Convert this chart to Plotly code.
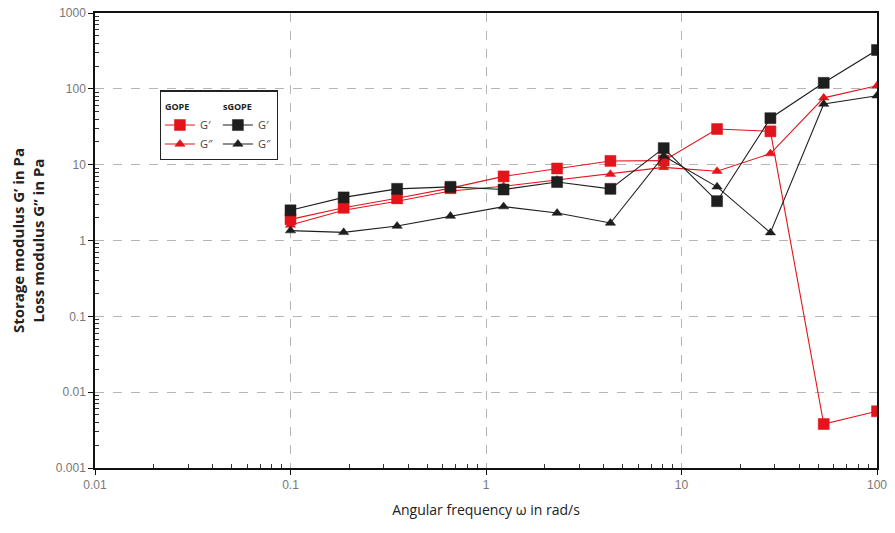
import plotly.graph_objects as go

# Angular frequency sweep (rad/s), log-spaced from 0.1 to 100
omega = [0.1, 0.187, 0.351, 0.658, 1.23, 2.31, 4.33, 8.11, 15.2, 28.5, 53.4, 100]

# GOPE moduli (Pa)
gope_storage = [1.9, 2.7, 3.6, 4.9, 7.0, 8.9, 11.2, 11.3, 29.5, 27.5, 0.0038, 0.0056]
gope_loss = [1.6, 2.5, 3.3, 4.5, 5.2, 6.3, 7.5, 9.2, 8.2, 14.0, 76, 110]

# sGOPE moduli (Pa)
sgope_storage = [2.5, 3.7, 4.8, 5.1, 4.7, 5.9, 4.8, 16.5, 3.3, 41, 120, 325]
sgope_loss = [1.35, 1.28, 1.55, 2.1, 2.8, 2.3, 1.7, 13.0, 5.1, 1.27, 63, 81]

y_ticks = [0.001, 0.01, 0.1, 1, 10, 100, 1000]
y_tick_text = ["0.001", "0.01", "0.1", "1", "10", "100", "1000"]
x_ticks = [0.01, 0.1, 1, 10, 100]
x_tick_text = ["0.01", "0.1", "1", "10", "100"]

RED = "#e3141b"
DARK = "#1e1e1e"


def minor_positions(lo_exp, hi_exp):
    # 2..9 multiples inside every decade of a log axis
    return [m * 10.0 ** e for e in range(lo_exp, hi_exp) for m in range(2, 10)]


fig = go.Figure()


def add_series(y, name, group, group_title, color, symbol, size):
    fig.add_trace(go.Scatter(
        x=omega, y=y, name=name, mode="lines+markers",
        legendgroup=group,
        legendgrouptitle=dict(text=group_title,
                              font=dict(size=9, color="#222", family="Open Sans", weight="bold")),
        line=dict(color=color, width=1.1),
        marker=dict(symbol=symbol, size=size, color=color,
                    line=dict(color=color, width=0.5)),
    ))


add_series(gope_storage, "G′", "gope", "GOPE", RED, "square", 11)
add_series(gope_loss, "G″", "gope", "GOPE", RED, "triangle-up", 9)
add_series(sgope_storage, "G′", "sgope", "sGOPE", DARK, "square", 11)
add_series(sgope_loss, "G″", "sgope", "sGOPE", DARK, "triangle-up", 9)

axis_common = dict(
    type="log",
    showline=True, linecolor="#111", linewidth=1.5, mirror=True,
    ticks="outside", ticklen=5, tickcolor="#111", tickwidth=1.2,
    showgrid=True, gridcolor="#b5b5b5", griddash="dash", gridwidth=1,
    tickfont=dict(family="Liberation Sans Narrow, Liberation Sans", size=12, color="#777"),
    zeroline=False,
)

fig.update_xaxes(
    **axis_common,
    range=[-2, 2],
    tickmode="array", tickvals=x_ticks, ticktext=x_tick_text,
    title=dict(text="Angular frequency ω in rad/s",
               font=dict(family="Open Sans", size=14, color="#222"), standoff=14),
)
fig.update_yaxes(
    **axis_common,
    range=[-3, 3],
    tickmode="array", tickvals=y_ticks, ticktext=y_tick_text,
    title=dict(text="Storage modulus G’ in Pa<br>Loss modulus G’’ in Pa",
               font=dict(family="Open Sans", size=15, color="#222", weight="bold"), standoff=8),
)

# Overlay axes carrying only the inward minor ticks (2..9 in each decade)
minor_axis = dict(
    type="log", ticks="inside", ticklen=4, tickcolor="#333", tickwidth=1,
    showticklabels=False, showgrid=False, zeroline=False, showline=False,
    tickmode="array",
)

fig.update_layout(
    width=895, height=533,
    margin=dict(l=95, r=18, t=6, b=65),
    plot_bgcolor="white", paper_bgcolor="white",
    showlegend=True,
    xaxis2=dict(**minor_axis, overlaying="x", side="bottom", anchor="y",
                range=[-2, 2], tickvals=minor_positions(-2, 2), matches=None),
    yaxis2=dict(**minor_axis, overlaying="y", side="left", anchor="x",
                range=[-3, 3], tickvals=minor_positions(-3, 3)),
    legend=dict(
        orientation="h", traceorder="grouped",
        x=0.083, y=0.83, xanchor="left", yanchor="top",
        bgcolor="white", bordercolor="#222", borderwidth=1.2,
        font=dict(family="Open Sans", size=11, color="#444"),
        itemwidth=30, tracegroupgap=16,
    ),
)

# An invisible trace binds the minor-tick axes so they are rendered
fig.add_trace(go.Scatter(x=[omega[0]], y=[gope_storage[0]], xaxis="x2", yaxis="y2",
                         mode="markers", marker=dict(opacity=0), showlegend=False,
                         hoverinfo="skip"))

fig.write_html("out.html")
